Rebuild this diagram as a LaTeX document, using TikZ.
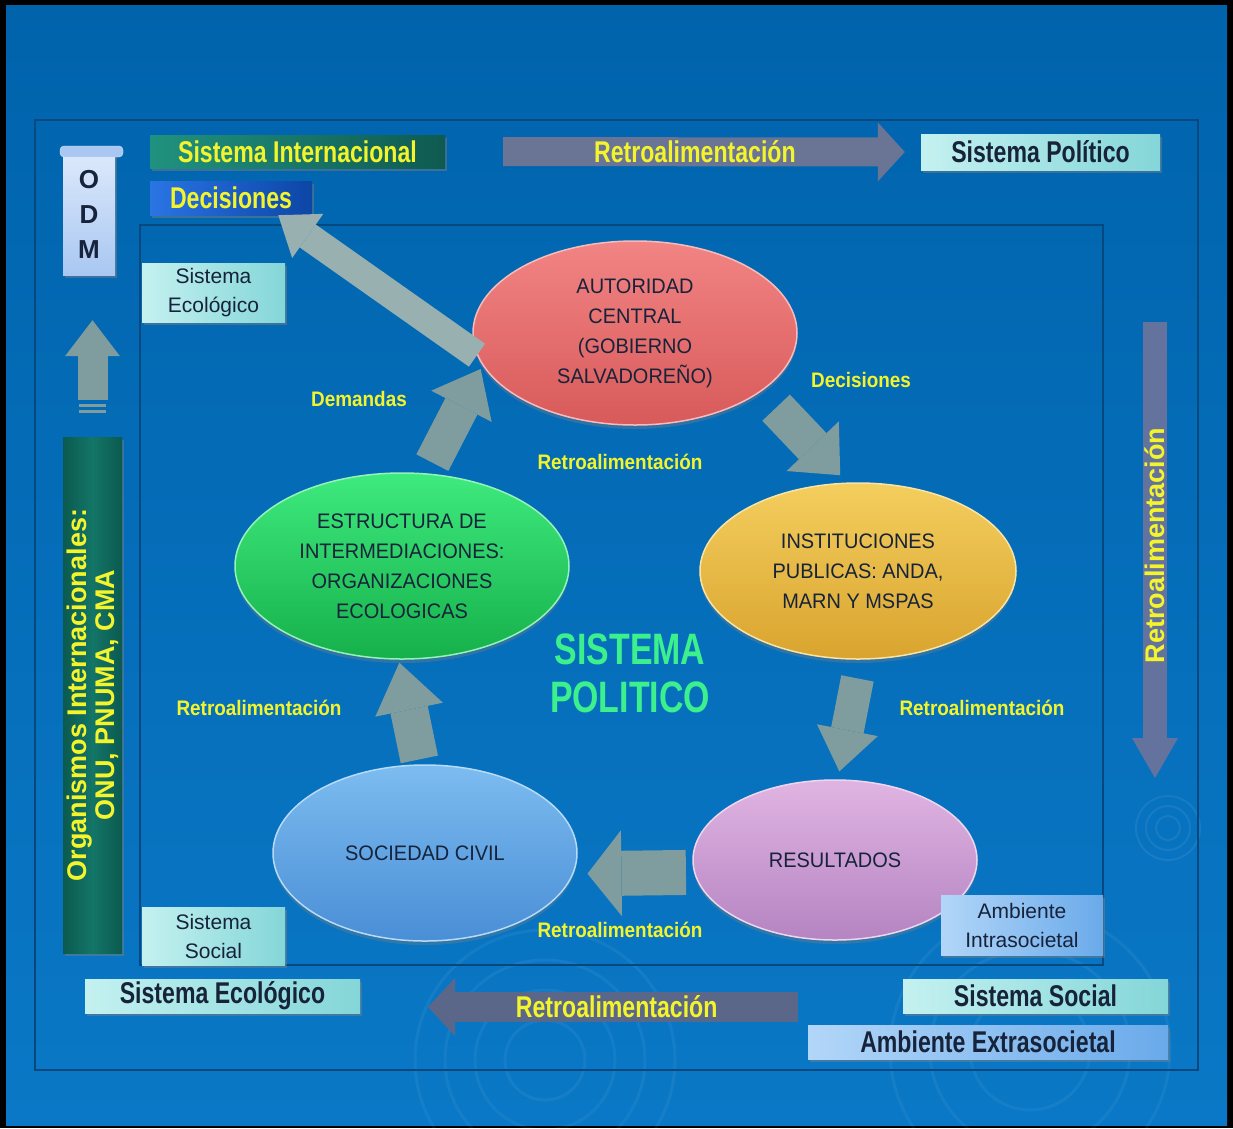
\documentclass[tikz,border=0pt]{standalone}
\usepackage{fontspec}
\setmainfont{Liberation Sans}
\newfontfamily\narrowfont[FakeStretch=0.77]{Liberation Sans}
\newfontfamily\semifont[FakeStretch=0.9]{Liberation Sans}
\newfontfamily\ellfont[FakeStretch=0.95]{Liberation Sans}
\usetikzlibrary{shapes.geometric,arrows.meta,shadows}
\definecolor{bgtop}{HTML}{0063AC}
\definecolor{bgbot}{HTML}{0A78C6}
\definecolor{framecol}{HTML}{07487E}
\definecolor{ylw}{HTML}{F4F42C}
\definecolor{ink}{HTML}{16233A}
\definecolor{arrgray}{HTML}{7F9C9E}
\definecolor{topgray}{HTML}{6A7494}
\definecolor{botgray}{HTML}{5B6789}
\definecolor{rgtgray}{HTML}{64739E}
\definecolor{cyanA}{HTML}{C4F1F0}
\definecolor{cyanB}{HTML}{84D6D8}
\definecolor{skyA}{HTML}{B2D6F8}
\definecolor{skyB}{HTML}{6AAAEA}
\definecolor{tealA}{HTML}{20927F}
\definecolor{tealB}{HTML}{0F5A50}
\definecolor{decA}{HTML}{2A74E4}
\definecolor{decB}{HTML}{0C46A6}
\definecolor{orgA}{HTML}{0B5A4F}
\definecolor{orgB}{HTML}{137567}
\definecolor{odmA}{HTML}{DCE9FB}
\definecolor{odmB}{HTML}{A9C7F2}
\definecolor{autA}{HTML}{F28484}
\definecolor{autB}{HTML}{D85A5A}
\definecolor{estA}{HTML}{3EEA7E}
\definecolor{estB}{HTML}{16B04A}
\definecolor{insA}{HTML}{F4CE5E}
\definecolor{insB}{HTML}{D9A42E}
\definecolor{socA}{HTML}{7CBCF0}
\definecolor{socB}{HTML}{4A8ED6}
\definecolor{resA}{HTML}{E0B4E2}
\definecolor{resB}{HTML}{B584C2}
\definecolor{polgreen}{HTML}{3CF08E}

\begin{document}
\begin{tikzpicture}[
  x=1pt,y=-1pt,
  every node/.style={inner sep=0pt},
  boxshadow/.style={drop shadow={shadow xshift=2pt,shadow yshift=-3pt,opacity=.45}},
  hbox/.style={rectangle, align=center, text=ylw, boxshadow,
    font={\narrowfont\bfseries\fontsize{30}{32}\selectfont}},
  lbox/.style={rectangle, align=center, text=ink, boxshadow,
    left color=cyanA, right color=cyanB,
    font={\narrowfont\bfseries\fontsize{30}{32}\selectfont}},
  sbox/.style={rectangle, align=center, text=ink, boxshadow,
    left color=cyanA, right color=cyanB,
    font={\fontsize{21}{29}\selectfont}},
  ell/.style={ellipse, align=center, text=ink, line width=1.5pt,
    drop shadow={shadow xshift=0pt,shadow yshift=-4pt,opacity=.35},
    font={\ellfont\fontsize{21}{30}\selectfont}},
  lbl/.style={text=ylw, font={\semifont\bfseries\fontsize{21}{24}\selectfont}},
  biglbl/.style={text=ylw, font={\narrowfont\bfseries\fontsize{30}{32}\selectfont}},
  cyc/.style n args={3}{draw=arrgray, line width=#1,
    -{Triangle[width=#2,length=#3,line width=0pt]}},
  longarr/.style n args={3}{line width=#1,
    -{Triangle[width=#2,length=#3,line width=0pt]}},
  ]
  % background and frames
  \useasboundingbox (0,0) rectangle (1233,1128);
  \fill[black] (0,0) rectangle (1233,1128);
  \shade[top color=bgtop,bottom color=bgbot] (6,5) rectangle (1227,1125);
  \foreach \r in {12,22,32}
    \draw[white,opacity=.07,line width=2pt] (1168,828) circle (\r pt);
  \foreach \r in {40,70,100,130}
    \draw[white,opacity=.05,line width=3pt] (545,1060) circle (\r pt);
  \foreach \r in {60,100,140}
    \draw[white,opacity=.05,line width=3pt] (1030,1050) circle (\r pt);
  \draw[framecol,line width=2.5pt] (35,120) rectangle (1198,1070);
  \draw[framecol,line width=2.5pt] (140,225) rectangle (1103,965);

  % outer labels
  \node[hbox, left color=tealA, right color=tealB,
    minimum width=295pt, minimum height=33pt] (sisint) at (297.5,151.5) {Sistema Internacional};
  \node[hbox, left color=decA, right color=decB,
    minimum width=162pt, minimum height=34pt] (dec) at (231,198) {Decisiones};
  \node[lbox, minimum width=239pt, minimum height=36pt] (sispol) at (1040.5,152) {Sistema Político};
  \node[lbox, minimum width=275pt, minimum height=34pt] (ecoout) at (222.5,996) {Sistema Ecológico};
  \node[lbox, minimum width=265pt, minimum height=34pt] (socout) at (1035.5,996) {Sistema Social};
  \node[lbox, left color=skyA, right color=skyB,
    minimum width=360pt, minimum height=34pt] (ambext) at (988,1042) {Ambiente Extrasocietal};

  % ODM and organismos
  \node[rectangle, top color=odmA, bottom color=odmB, boxshadow, align=center, text=ink,
    minimum width=52pt, minimum height=122pt,
    font={\bfseries\fontsize{26}{35}\selectfont}] (odm) at (89,214) {O\\D\\M};
  \draw[fill=odmB, draw=odmA, rounded corners=4pt] (60,146) rectangle (123,157);
  \node[rectangle, left color=orgA, right color=orgA, middle color=orgB, boxshadow,
    minimum width=59pt, minimum height=516pt] (org) at (92.5,695) {};
  \node[rotate=90, align=center, text=ylw,
    font={\bfseries\fontsize{27}{28}\selectfont}] (orgtxt) at (org.center)
    {Organismos Internacionales:\\ONU, PNUMA, CMA};
  \draw[cyc={30pt}{55pt}{36pt}, shorten <=37pt, shorten >=45pt] (org.north) -- (org.north |- odm.south);
  \draw[arrgray, line width=3pt] (79,405) -- (106,405);
  \draw[arrgray, line width=3pt] (79,411) -- (106,411);

  % political system
  \node[ell, minimum width=324pt, minimum height=184pt, top color=autA, bottom color=autB,
    draw=autA!55!white] (aut) at (635,333) {AUTORIDAD\\CENTRAL\\(GOBIERNO\\SALVADOREÑO)};
  \node[ell, minimum width=334pt, minimum height=186pt, top color=estA, bottom color=estB,
    draw=estA!55!white] (est) at (402,566) {ESTRUCTURA DE\\INTERMEDIACIONES:\\ORGANIZACIONES\\ECOLOGICAS};
  \node[ell, minimum width=316pt, minimum height=176pt, top color=insA, bottom color=insB,
    draw=insA!55!white] (ins) at (858,571) {INSTITUCIONES\\PUBLICAS: ANDA,\\MARN Y MSPAS};
  \node[ell, minimum width=304pt, minimum height=176pt, top color=socA, bottom color=socB,
    draw=socA!55!white] (soc) at (425,853) {SOCIEDAD CIVIL};
  \node[ell, minimum width=284pt, minimum height=160pt, top color=resA, bottom color=resB,
    draw=resA!55!white] (res) at (835,860) {RESULTADOS};
  \node[text=polgreen, align=center,
    font={\narrowfont\bfseries\fontsize{44}{48}\selectfont}] (sp) at (630,673) {SISTEMA\\POLITICO};

  \node[sbox, minimum width=143pt, minimum height=59pt] (ecoin) at (213.5,292.5) {Sistema\\Ecológico};
  \node[sbox, minimum width=143pt, minimum height=58pt] (socin) at (213.5,936) {Sistema\\Social};
  \node[sbox, left color=skyA, right color=skyB,
    minimum width=162pt, minimum height=60pt] (ambint) at (1022,925) {Ambiente\\Intrasocietal};

  % cycle arrows
  \draw[cyc={28pt}{54pt}{36pt}, draw=arrgray!80!white] (aut.188) -- (dec.-20);
  \draw[cyc={36pt}{68pt}{42pt}, shorten <=12pt, shorten >=4pt] (est.75) -- (aut.192);
  \draw[cyc={38pt}{72pt}{40pt}, shorten <=22pt, shorten >=10pt] (aut.-25) -- (ins.97);
  \draw[cyc={33pt}{62pt}{42pt}, shorten <=19pt, shorten >=8pt] (ins.-88) -- (res.88);
  \draw[cyc={45pt}{86pt}{34pt}, shorten <=8pt, shorten >=14pt] (res.185) -- (soc.-8);
  \draw[cyc={38pt}{69pt}{48pt}, shorten <=5pt, shorten >=3pt] (soc.93) -- (est.-92);

  \node[lbl] (ldem) at (359,399) {Demandas};
  \node[lbl] (ldec) at (861,380) {Decisiones};
  \node[lbl] (lret1) at (620,462) {Retroalimentación};
  \node[lbl] (lret2) at (259,708) {Retroalimentación};
  \node[lbl] (lret3) at (982,708) {Retroalimentación};
  \node[lbl] (lret4) at (620,930) {Retroalimentación};

  % long feedback arrows
  \draw[longarr={29pt}{59pt}{27pt}, draw=topgray, shorten <=58pt, shorten >=16pt]
    (sisint.east) -- (sispol.west) node[biglbl, pos=.525] (ltop) {Retroalimentación};
  \coordinate (rtop) at (1155,322);
  \coordinate (rbot) at (1155,778);
  \draw[longarr={24pt}{46pt}{40pt}, draw=rgtgray] (rtop) -- (rbot)
    node[rotate=90, text=ylw, pos=.49, font={\bfseries\fontsize{27}{28}\selectfont}] (lrgt) {Retroalimentación};
  \coordinate (bright) at (798,1007);
  \coordinate (bleft) at (428,1007);
  \draw[longarr={30pt}{58pt}{27pt}, draw=botgray] (bright) -- (bleft)
    node[biglbl, pos=.49] (lbot) {Retroalimentación};
\end{tikzpicture}
\end{document}
